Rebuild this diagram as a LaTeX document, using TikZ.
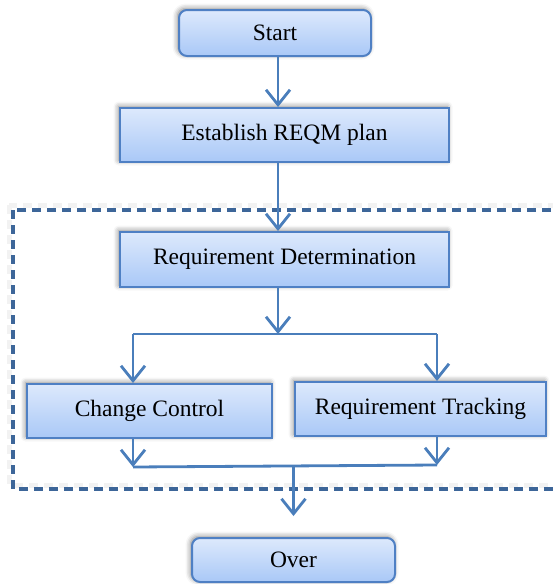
\documentclass[tikz,border=0pt]{standalone}
\usepackage{fontspec}
\setmainfont{Liberation Serif}
\usepackage{tikz}
\usetikzlibrary{positioning,arrows.meta,shadows.blur}

\definecolor{boxtop}{HTML}{DDE9FC}
\definecolor{boxbot}{HTML}{A9C8F7}
\definecolor{boxline}{HTML}{4F80C4}
\definecolor{flowline}{HTML}{4A7EBB}
\definecolor{dashline}{HTML}{3D6699}

\tikzset{
  stage/.style={draw=boxline, line width=2pt, top color=boxtop, bottom color=boxbot,
    inner sep=0pt, font=\fontsize{23.5}{27}\selectfont,
    blur shadow={shadow xshift=-1.5pt, shadow yshift=1.5pt, shadow blur radius=5pt, shadow opacity=50}},
  terminal/.style={stage, rounded corners=8pt},
  flow/.style={draw=flowline, line width=2.8pt},
  arr/.style={flow, -{Straight Barb[length=15pt, width=24pt, line width=2.8pt]}},
  dashbox/.style={draw=dashline, line width=3.2pt, dash pattern=on 9pt off 6pt}
}

\begin{document}
\begin{tikzpicture}[x=1pt, y=1pt]
  \useasboundingbox (0,0) rectangle (553,-584);

  % group frame
  \draw[dashbox, draw=black!15, opacity=0.35, line width=5pt] (9,-205) rectangle (558,-485);
  \draw[dashbox] (13,-210) rectangle (558,-489);

  % Define nodes
  \node[terminal, minimum width=192pt, minimum height=46pt] at (275,-33) (start) {Start};
  \node[stage, minimum width=329pt, minimum height=54pt, below=50pt of start, xshift=9.5pt] (plan) {Establish REQM plan};
  \node[stage, minimum width=329pt, minimum height=55pt, below=68pt of plan] (reqdet) {Requirement Determination};
  \node[stage, minimum width=245pt, minimum height=54pt, below=95pt of reqdet, xshift=-135pt] (change) {Change Control};
  \node[stage, minimum width=251pt, minimum height=54pt, right=21pt of change, yshift=2pt] (track) {Requirement Tracking};
  \node[terminal, minimum width=203pt, minimum height=44pt] at (293.5,-560) (over) {Over};

  % connectors
  \coordinate (spine) at (278,0);
  \coordinate (splitL) at (133,-334);
  \coordinate (splitR) at (437,-334);
  \coordinate (mergeL) at (133,-467);
  \coordinate (mergeR) at (437,-465);

  \draw[arr] (start.south -| spine) -- (plan.north -| spine);
  \draw[arr] (plan.south -| spine) -- (reqdet.north -| spine);
  \draw[arr] (reqdet.south -| spine) -- (spine |- splitL);
  \draw[flow] (splitL) -- (splitR);
  \draw[arr] (splitL) -- (splitL |- change.north);
  \draw[arr] (splitR) -- (splitR |- track.north);
  \draw[arr] (change.south -| mergeL) -- (mergeL);
  \draw[arr] (track.south -| mergeR) -- (mergeR);
  \draw[flow] (mergeL) -- (mergeR);
  \draw[arr, shorten >=21pt] (over.north |- mergeL) -- (over.north);

\end{tikzpicture}
\end{document}
